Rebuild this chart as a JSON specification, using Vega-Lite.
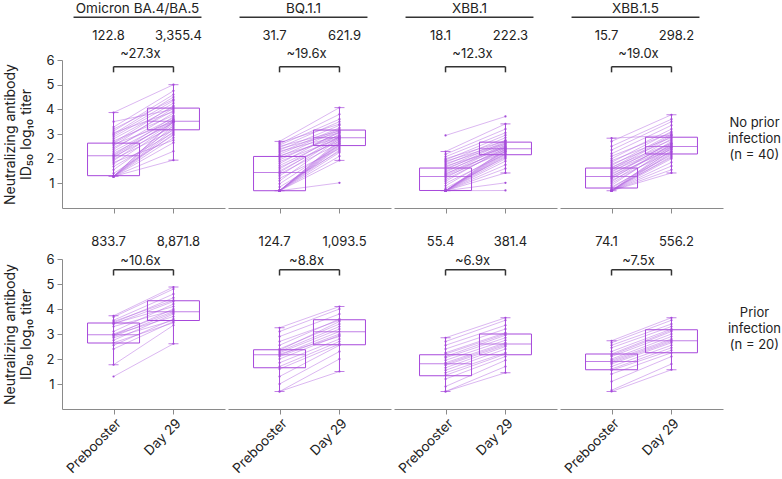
{
"$schema": "https://vega.github.io/schema/vega-lite/v6.json",
"padding": {"left": 3, "top": 1, "right": 0, "bottom": 0},
"spacing": 22,
"config": {"font": "Inter", "view": {"stroke": null}, "axis": {"grid": false, "domainColor": "#8a8a8a", "tickColor": "#8a8a8a", "labelColor": "#222", "labelFontSize": 13, "labelFont": "Inter", "titleFont": "Inter", "titleFontSize": 14, "titleFontWeight": "normal", "titleColor": "#222", "tickSize": 5, "labelOverlap": false}},
"datasets": {"d": [
{"k":"p","i":"n","v":"Omicron BA.4/BA.5","id":1,"Prebooster":1.28,"Day 29":1.94},
{"k":"p","i":"n","v":"Omicron BA.4/BA.5","id":2,"Prebooster":1.28,"Day 29":2.30},
{"k":"p","i":"n","v":"Omicron BA.4/BA.5","id":3,"Prebooster":1.28,"Day 29":2.65},
{"k":"p","i":"n","v":"Omicron BA.4/BA.5","id":4,"Prebooster":1.28,"Day 29":2.85},
{"k":"p","i":"n","v":"Omicron BA.4/BA.5","id":5,"Prebooster":1.28,"Day 29":3.00},
{"k":"p","i":"n","v":"Omicron BA.4/BA.5","id":6,"Prebooster":1.28,"Day 29":3.10},
{"k":"p","i":"n","v":"Omicron BA.4/BA.5","id":7,"Prebooster":1.28,"Day 29":3.20},
{"k":"p","i":"n","v":"Omicron BA.4/BA.5","id":8,"Prebooster":1.28,"Day 29":3.35},
{"k":"p","i":"n","v":"Omicron BA.4/BA.5","id":9,"Prebooster":1.28,"Day 29":3.50},
{"k":"p","i":"n","v":"Omicron BA.4/BA.5","id":10,"Prebooster":1.28,"Day 29":3.55},
{"k":"p","i":"n","v":"Omicron BA.4/BA.5","id":11,"Prebooster":1.40,"Day 29":2.95},
{"k":"p","i":"n","v":"Omicron BA.4/BA.5","id":12,"Prebooster":1.55,"Day 29":3.25},
{"k":"p","i":"n","v":"Omicron BA.4/BA.5","id":13,"Prebooster":1.68,"Day 29":3.05},
{"k":"p","i":"n","v":"Omicron BA.4/BA.5","id":14,"Prebooster":1.78,"Day 29":3.40},
{"k":"p","i":"n","v":"Omicron BA.4/BA.5","id":15,"Prebooster":1.85,"Day 29":2.75},
{"k":"p","i":"n","v":"Omicron BA.4/BA.5","id":16,"Prebooster":1.92,"Day 29":3.48},
{"k":"p","i":"n","v":"Omicron BA.4/BA.5","id":17,"Prebooster":1.98,"Day 29":3.15},
{"k":"p","i":"n","v":"Omicron BA.4/BA.5","id":18,"Prebooster":2.03,"Day 29":3.60},
{"k":"p","i":"n","v":"Omicron BA.4/BA.5","id":19,"Prebooster":2.08,"Day 29":3.30},
{"k":"p","i":"n","v":"Omicron BA.4/BA.5","id":20,"Prebooster":2.12,"Day 29":3.52},
{"k":"p","i":"n","v":"Omicron BA.4/BA.5","id":21,"Prebooster":2.15,"Day 29":3.70},
{"k":"p","i":"n","v":"Omicron BA.4/BA.5","id":22,"Prebooster":2.22,"Day 29":3.45},
{"k":"p","i":"n","v":"Omicron BA.4/BA.5","id":23,"Prebooster":2.30,"Day 29":3.58},
{"k":"p","i":"n","v":"Omicron BA.4/BA.5","id":24,"Prebooster":2.38,"Day 29":3.85},
{"k":"p","i":"n","v":"Omicron BA.4/BA.5","id":25,"Prebooster":2.45,"Day 29":3.65},
{"k":"p","i":"n","v":"Omicron BA.4/BA.5","id":26,"Prebooster":2.52,"Day 29":4.05},
{"k":"p","i":"n","v":"Omicron BA.4/BA.5","id":27,"Prebooster":2.58,"Day 29":3.50},
{"k":"p","i":"n","v":"Omicron BA.4/BA.5","id":28,"Prebooster":2.62,"Day 29":3.95},
{"k":"p","i":"n","v":"Omicron BA.4/BA.5","id":29,"Prebooster":2.65,"Day 29":4.15},
{"k":"p","i":"n","v":"Omicron BA.4/BA.5","id":30,"Prebooster":2.72,"Day 29":3.75},
{"k":"p","i":"n","v":"Omicron BA.4/BA.5","id":31,"Prebooster":2.80,"Day 29":4.10},
{"k":"p","i":"n","v":"Omicron BA.4/BA.5","id":32,"Prebooster":2.88,"Day 29":4.25},
{"k":"p","i":"n","v":"Omicron BA.4/BA.5","id":33,"Prebooster":2.95,"Day 29":4.35},
{"k":"p","i":"n","v":"Omicron BA.4/BA.5","id":34,"Prebooster":3.00,"Day 29":4.50},
{"k":"p","i":"n","v":"Omicron BA.4/BA.5","id":35,"Prebooster":3.05,"Day 29":3.90},
{"k":"p","i":"n","v":"Omicron BA.4/BA.5","id":36,"Prebooster":3.12,"Day 29":4.60},
{"k":"p","i":"n","v":"Omicron BA.4/BA.5","id":37,"Prebooster":3.20,"Day 29":4.40},
{"k":"p","i":"n","v":"Omicron BA.4/BA.5","id":38,"Prebooster":3.28,"Day 29":4.75},
{"k":"p","i":"n","v":"Omicron BA.4/BA.5","id":39,"Prebooster":3.50,"Day 29":4.00},
{"k":"p","i":"n","v":"Omicron BA.4/BA.5","id":40,"Prebooster":3.87,"Day 29":5.00},
{"k":"p","i":"n","v":"BQ.1.1","id":1,"Prebooster":0.70,"Day 29":1.02},
{"k":"p","i":"n","v":"BQ.1.1","id":2,"Prebooster":0.70,"Day 29":1.93},
{"k":"p","i":"n","v":"BQ.1.1","id":3,"Prebooster":0.70,"Day 29":2.10},
{"k":"p","i":"n","v":"BQ.1.1","id":4,"Prebooster":0.70,"Day 29":2.25},
{"k":"p","i":"n","v":"BQ.1.1","id":5,"Prebooster":0.70,"Day 29":2.35},
{"k":"p","i":"n","v":"BQ.1.1","id":6,"Prebooster":0.70,"Day 29":2.45},
{"k":"p","i":"n","v":"BQ.1.1","id":7,"Prebooster":0.70,"Day 29":2.50},
{"k":"p","i":"n","v":"BQ.1.1","id":8,"Prebooster":0.70,"Day 29":2.55},
{"k":"p","i":"n","v":"BQ.1.1","id":9,"Prebooster":0.70,"Day 29":2.60},
{"k":"p","i":"n","v":"BQ.1.1","id":10,"Prebooster":0.70,"Day 29":2.65},
{"k":"p","i":"n","v":"BQ.1.1","id":11,"Prebooster":0.70,"Day 29":2.70},
{"k":"p","i":"n","v":"BQ.1.1","id":12,"Prebooster":0.70,"Day 29":2.75},
{"k":"p","i":"n","v":"BQ.1.1","id":13,"Prebooster":0.85,"Day 29":2.30},
{"k":"p","i":"n","v":"BQ.1.1","id":14,"Prebooster":0.98,"Day 29":2.55},
{"k":"p","i":"n","v":"BQ.1.1","id":15,"Prebooster":1.10,"Day 29":2.80},
{"k":"p","i":"n","v":"BQ.1.1","id":16,"Prebooster":1.20,"Day 29":2.40},
{"k":"p","i":"n","v":"BQ.1.1","id":17,"Prebooster":1.30,"Day 29":2.85},
{"k":"p","i":"n","v":"BQ.1.1","id":18,"Prebooster":1.38,"Day 29":2.62},
{"k":"p","i":"n","v":"BQ.1.1","id":19,"Prebooster":1.44,"Day 29":2.90},
{"k":"p","i":"n","v":"BQ.1.1","id":20,"Prebooster":1.50,"Day 29":2.78},
{"k":"p","i":"n","v":"BQ.1.1","id":21,"Prebooster":1.58,"Day 29":3.00},
{"k":"p","i":"n","v":"BQ.1.1","id":22,"Prebooster":1.65,"Day 29":2.70},
{"k":"p","i":"n","v":"BQ.1.1","id":23,"Prebooster":1.72,"Day 29":2.88},
{"k":"p","i":"n","v":"BQ.1.1","id":24,"Prebooster":1.80,"Day 29":3.10},
{"k":"p","i":"n","v":"BQ.1.1","id":25,"Prebooster":1.88,"Day 29":2.82},
{"k":"p","i":"n","v":"BQ.1.1","id":26,"Prebooster":1.95,"Day 29":3.05},
{"k":"p","i":"n","v":"BQ.1.1","id":27,"Prebooster":2.02,"Day 29":2.95},
{"k":"p","i":"n","v":"BQ.1.1","id":28,"Prebooster":2.08,"Day 29":3.15},
{"k":"p","i":"n","v":"BQ.1.1","id":29,"Prebooster":2.12,"Day 29":2.86},
{"k":"p","i":"n","v":"BQ.1.1","id":30,"Prebooster":2.18,"Day 29":3.20},
{"k":"p","i":"n","v":"BQ.1.1","id":31,"Prebooster":2.25,"Day 29":3.25},
{"k":"p","i":"n","v":"BQ.1.1","id":32,"Prebooster":2.30,"Day 29":2.92},
{"k":"p","i":"n","v":"BQ.1.1","id":33,"Prebooster":2.35,"Day 29":3.35},
{"k":"p","i":"n","v":"BQ.1.1","id":34,"Prebooster":2.40,"Day 29":3.05},
{"k":"p","i":"n","v":"BQ.1.1","id":35,"Prebooster":2.45,"Day 29":3.50},
{"k":"p","i":"n","v":"BQ.1.1","id":36,"Prebooster":2.50,"Day 29":3.12},
{"k":"p","i":"n","v":"BQ.1.1","id":37,"Prebooster":2.55,"Day 29":3.60},
{"k":"p","i":"n","v":"BQ.1.1","id":38,"Prebooster":2.60,"Day 29":3.80},
{"k":"p","i":"n","v":"BQ.1.1","id":39,"Prebooster":2.65,"Day 29":3.40},
{"k":"p","i":"n","v":"BQ.1.1","id":40,"Prebooster":2.70,"Day 29":4.07},
{"k":"p","i":"n","v":"XBB.1","id":1,"Prebooster":0.70,"Day 29":0.71},
{"k":"p","i":"n","v":"XBB.1","id":2,"Prebooster":0.70,"Day 29":1.02},
{"k":"p","i":"n","v":"XBB.1","id":3,"Prebooster":0.70,"Day 29":1.42},
{"k":"p","i":"n","v":"XBB.1","id":4,"Prebooster":0.70,"Day 29":1.60},
{"k":"p","i":"n","v":"XBB.1","id":5,"Prebooster":0.70,"Day 29":1.75},
{"k":"p","i":"n","v":"XBB.1","id":6,"Prebooster":0.70,"Day 29":1.90},
{"k":"p","i":"n","v":"XBB.1","id":7,"Prebooster":0.70,"Day 29":2.00},
{"k":"p","i":"n","v":"XBB.1","id":8,"Prebooster":0.70,"Day 29":2.10},
{"k":"p","i":"n","v":"XBB.1","id":9,"Prebooster":0.70,"Day 29":2.15},
{"k":"p","i":"n","v":"XBB.1","id":10,"Prebooster":0.70,"Day 29":2.20},
{"k":"p","i":"n","v":"XBB.1","id":11,"Prebooster":0.70,"Day 29":2.25},
{"k":"p","i":"n","v":"XBB.1","id":12,"Prebooster":0.70,"Day 29":2.30},
{"k":"p","i":"n","v":"XBB.1","id":13,"Prebooster":0.70,"Day 29":2.35},
{"k":"p","i":"n","v":"XBB.1","id":14,"Prebooster":0.70,"Day 29":2.40},
{"k":"p","i":"n","v":"XBB.1","id":15,"Prebooster":0.80,"Day 29":2.05},
{"k":"p","i":"n","v":"XBB.1","id":16,"Prebooster":0.90,"Day 29":2.30},
{"k":"p","i":"n","v":"XBB.1","id":17,"Prebooster":1.00,"Day 29":2.18},
{"k":"p","i":"n","v":"XBB.1","id":18,"Prebooster":1.08,"Day 29":2.45},
{"k":"p","i":"n","v":"XBB.1","id":19,"Prebooster":1.15,"Day 29":2.38},
{"k":"p","i":"n","v":"XBB.1","id":20,"Prebooster":1.22,"Day 29":2.50},
{"k":"p","i":"n","v":"XBB.1","id":21,"Prebooster":1.28,"Day 29":2.28},
{"k":"p","i":"n","v":"XBB.1","id":22,"Prebooster":1.32,"Day 29":2.42},
{"k":"p","i":"n","v":"XBB.1","id":23,"Prebooster":1.36,"Day 29":2.55},
{"k":"p","i":"n","v":"XBB.1","id":24,"Prebooster":1.40,"Day 29":2.35},
{"k":"p","i":"n","v":"XBB.1","id":25,"Prebooster":1.45,"Day 29":2.60},
{"k":"p","i":"n","v":"XBB.1","id":26,"Prebooster":1.50,"Day 29":2.48},
{"k":"p","i":"n","v":"XBB.1","id":27,"Prebooster":1.55,"Day 29":2.66},
{"k":"p","i":"n","v":"XBB.1","id":28,"Prebooster":1.60,"Day 29":2.52},
{"k":"p","i":"n","v":"XBB.1","id":29,"Prebooster":1.65,"Day 29":2.70},
{"k":"p","i":"n","v":"XBB.1","id":30,"Prebooster":1.70,"Day 29":2.44},
{"k":"p","i":"n","v":"XBB.1","id":31,"Prebooster":1.75,"Day 29":2.75},
{"k":"p","i":"n","v":"XBB.1","id":32,"Prebooster":1.80,"Day 29":2.58},
{"k":"p","i":"n","v":"XBB.1","id":33,"Prebooster":1.85,"Day 29":2.85},
{"k":"p","i":"n","v":"XBB.1","id":34,"Prebooster":1.90,"Day 29":2.62},
{"k":"p","i":"n","v":"XBB.1","id":35,"Prebooster":1.95,"Day 29":2.95},
{"k":"p","i":"n","v":"XBB.1","id":36,"Prebooster":2.00,"Day 29":2.72},
{"k":"p","i":"n","v":"XBB.1","id":37,"Prebooster":2.08,"Day 29":3.05},
{"k":"p","i":"n","v":"XBB.1","id":38,"Prebooster":2.18,"Day 29":3.20},
{"k":"p","i":"n","v":"XBB.1","id":39,"Prebooster":2.29,"Day 29":3.41},
{"k":"p","i":"n","v":"XBB.1","id":40,"Prebooster":2.94,"Day 29":3.71},
{"k":"p","i":"n","v":"XBB.1.5","id":1,"Prebooster":0.70,"Day 29":1.42},
{"k":"p","i":"n","v":"XBB.1.5","id":2,"Prebooster":0.70,"Day 29":1.55},
{"k":"p","i":"n","v":"XBB.1.5","id":3,"Prebooster":0.70,"Day 29":1.70},
{"k":"p","i":"n","v":"XBB.1.5","id":4,"Prebooster":0.70,"Day 29":1.85},
{"k":"p","i":"n","v":"XBB.1.5","id":5,"Prebooster":0.70,"Day 29":2.00},
{"k":"p","i":"n","v":"XBB.1.5","id":6,"Prebooster":0.70,"Day 29":2.10},
{"k":"p","i":"n","v":"XBB.1.5","id":7,"Prebooster":0.70,"Day 29":2.20},
{"k":"p","i":"n","v":"XBB.1.5","id":8,"Prebooster":0.70,"Day 29":2.25},
{"k":"p","i":"n","v":"XBB.1.5","id":9,"Prebooster":0.70,"Day 29":2.35},
{"k":"p","i":"n","v":"XBB.1.5","id":10,"Prebooster":0.70,"Day 29":2.45},
{"k":"p","i":"n","v":"XBB.1.5","id":11,"Prebooster":0.75,"Day 29":2.05},
{"k":"p","i":"n","v":"XBB.1.5","id":12,"Prebooster":0.80,"Day 29":2.30},
{"k":"p","i":"n","v":"XBB.1.5","id":13,"Prebooster":0.85,"Day 29":2.15},
{"k":"p","i":"n","v":"XBB.1.5","id":14,"Prebooster":0.92,"Day 29":2.50},
{"k":"p","i":"n","v":"XBB.1.5","id":15,"Prebooster":1.00,"Day 29":2.40},
{"k":"p","i":"n","v":"XBB.1.5","id":16,"Prebooster":1.06,"Day 29":2.60},
{"k":"p","i":"n","v":"XBB.1.5","id":17,"Prebooster":1.12,"Day 29":2.28},
{"k":"p","i":"n","v":"XBB.1.5","id":18,"Prebooster":1.18,"Day 29":2.55},
{"k":"p","i":"n","v":"XBB.1.5","id":19,"Prebooster":1.22,"Day 29":2.45},
{"k":"p","i":"n","v":"XBB.1.5","id":20,"Prebooster":1.26,"Day 29":2.70},
{"k":"p","i":"n","v":"XBB.1.5","id":21,"Prebooster":1.30,"Day 29":2.38},
{"k":"p","i":"n","v":"XBB.1.5","id":22,"Prebooster":1.35,"Day 29":2.65},
{"k":"p","i":"n","v":"XBB.1.5","id":23,"Prebooster":1.40,"Day 29":2.48},
{"k":"p","i":"n","v":"XBB.1.5","id":24,"Prebooster":1.45,"Day 29":2.80},
{"k":"p","i":"n","v":"XBB.1.5","id":25,"Prebooster":1.50,"Day 29":2.52},
{"k":"p","i":"n","v":"XBB.1.5","id":26,"Prebooster":1.55,"Day 29":2.90},
{"k":"p","i":"n","v":"XBB.1.5","id":27,"Prebooster":1.58,"Day 29":2.58},
{"k":"p","i":"n","v":"XBB.1.5","id":28,"Prebooster":1.62,"Day 29":2.95},
{"k":"p","i":"n","v":"XBB.1.5","id":29,"Prebooster":1.66,"Day 29":2.62},
{"k":"p","i":"n","v":"XBB.1.5","id":30,"Prebooster":1.72,"Day 29":3.00},
{"k":"p","i":"n","v":"XBB.1.5","id":31,"Prebooster":1.78,"Day 29":2.75},
{"k":"p","i":"n","v":"XBB.1.5","id":32,"Prebooster":1.85,"Day 29":3.10},
{"k":"p","i":"n","v":"XBB.1.5","id":33,"Prebooster":1.92,"Day 29":2.85},
{"k":"p","i":"n","v":"XBB.1.5","id":34,"Prebooster":2.00,"Day 29":3.20},
{"k":"p","i":"n","v":"XBB.1.5","id":35,"Prebooster":2.10,"Day 29":3.05},
{"k":"p","i":"n","v":"XBB.1.5","id":36,"Prebooster":2.20,"Day 29":3.35},
{"k":"p","i":"n","v":"XBB.1.5","id":37,"Prebooster":2.35,"Day 29":3.50},
{"k":"p","i":"n","v":"XBB.1.5","id":38,"Prebooster":2.50,"Day 29":3.60},
{"k":"p","i":"n","v":"XBB.1.5","id":39,"Prebooster":2.70,"Day 29":3.78},
{"k":"p","i":"n","v":"XBB.1.5","id":40,"Prebooster":2.83,"Day 29":2.95},
{"k":"p","i":"p","v":"Omicron BA.4/BA.5","id":1,"Prebooster":1.30,"Day 29":2.61},
{"k":"p","i":"p","v":"Omicron BA.4/BA.5","id":2,"Prebooster":1.77,"Day 29":3.35},
{"k":"p","i":"p","v":"Omicron BA.4/BA.5","id":3,"Prebooster":2.40,"Day 29":3.50},
{"k":"p","i":"p","v":"Omicron BA.4/BA.5","id":4,"Prebooster":2.55,"Day 29":3.60},
{"k":"p","i":"p","v":"Omicron BA.4/BA.5","id":5,"Prebooster":2.65,"Day 29":3.45},
{"k":"p","i":"p","v":"Omicron BA.4/BA.5","id":6,"Prebooster":2.75,"Day 29":3.80},
{"k":"p","i":"p","v":"Omicron BA.4/BA.5","id":7,"Prebooster":2.85,"Day 29":3.55},
{"k":"p","i":"p","v":"Omicron BA.4/BA.5","id":8,"Prebooster":2.90,"Day 29":3.85},
{"k":"p","i":"p","v":"Omicron BA.4/BA.5","id":9,"Prebooster":2.95,"Day 29":4.00},
{"k":"p","i":"p","v":"Omicron BA.4/BA.5","id":10,"Prebooster":2.97,"Day 29":3.70},
{"k":"p","i":"p","v":"Omicron BA.4/BA.5","id":11,"Prebooster":3.00,"Day 29":3.90},
{"k":"p","i":"p","v":"Omicron BA.4/BA.5","id":12,"Prebooster":3.10,"Day 29":4.20},
{"k":"p","i":"p","v":"Omicron BA.4/BA.5","id":13,"Prebooster":3.30,"Day 29":3.95},
{"k":"p","i":"p","v":"Omicron BA.4/BA.5","id":14,"Prebooster":3.40,"Day 29":4.30},
{"k":"p","i":"p","v":"Omicron BA.4/BA.5","id":15,"Prebooster":3.42,"Day 29":4.10},
{"k":"p","i":"p","v":"Omicron BA.4/BA.5","id":16,"Prebooster":3.45,"Day 29":4.45},
{"k":"p","i":"p","v":"Omicron BA.4/BA.5","id":17,"Prebooster":3.50,"Day 29":4.35},
{"k":"p","i":"p","v":"Omicron BA.4/BA.5","id":18,"Prebooster":3.55,"Day 29":4.60},
{"k":"p","i":"p","v":"Omicron BA.4/BA.5","id":19,"Prebooster":3.68,"Day 29":4.80},
{"k":"p","i":"p","v":"Omicron BA.4/BA.5","id":20,"Prebooster":3.73,"Day 29":4.88},
{"k":"p","i":"p","v":"BQ.1.1","id":1,"Prebooster":0.70,"Day 29":1.50},
{"k":"p","i":"p","v":"BQ.1.1","id":2,"Prebooster":0.70,"Day 29":2.00},
{"k":"p","i":"p","v":"BQ.1.1","id":3,"Prebooster":1.00,"Day 29":2.30},
{"k":"p","i":"p","v":"BQ.1.1","id":4,"Prebooster":1.30,"Day 29":2.55},
{"k":"p","i":"p","v":"BQ.1.1","id":5,"Prebooster":1.60,"Day 29":2.60},
{"k":"p","i":"p","v":"BQ.1.1","id":6,"Prebooster":1.70,"Day 29":2.70},
{"k":"p","i":"p","v":"BQ.1.1","id":7,"Prebooster":1.85,"Day 29":2.80},
{"k":"p","i":"p","v":"BQ.1.1","id":8,"Prebooster":2.00,"Day 29":2.95},
{"k":"p","i":"p","v":"BQ.1.1","id":9,"Prebooster":2.10,"Day 29":3.00},
{"k":"p","i":"p","v":"BQ.1.1","id":10,"Prebooster":2.15,"Day 29":3.10},
{"k":"p","i":"p","v":"BQ.1.1","id":11,"Prebooster":2.20,"Day 29":2.90},
{"k":"p","i":"p","v":"BQ.1.1","id":12,"Prebooster":2.25,"Day 29":3.20},
{"k":"p","i":"p","v":"BQ.1.1","id":13,"Prebooster":2.30,"Day 29":3.30},
{"k":"p","i":"p","v":"BQ.1.1","id":14,"Prebooster":2.35,"Day 29":3.50},
{"k":"p","i":"p","v":"BQ.1.1","id":15,"Prebooster":2.40,"Day 29":3.40},
{"k":"p","i":"p","v":"BQ.1.1","id":16,"Prebooster":2.55,"Day 29":3.60},
{"k":"p","i":"p","v":"BQ.1.1","id":17,"Prebooster":2.70,"Day 29":3.55},
{"k":"p","i":"p","v":"BQ.1.1","id":18,"Prebooster":2.90,"Day 29":3.80},
{"k":"p","i":"p","v":"BQ.1.1","id":19,"Prebooster":3.10,"Day 29":4.00},
{"k":"p","i":"p","v":"BQ.1.1","id":20,"Prebooster":3.25,"Day 29":4.10},
{"k":"p","i":"p","v":"XBB.1","id":1,"Prebooster":0.70,"Day 29":1.45},
{"k":"p","i":"p","v":"XBB.1","id":2,"Prebooster":0.70,"Day 29":1.70},
{"k":"p","i":"p","v":"XBB.1","id":3,"Prebooster":0.90,"Day 29":1.95},
{"k":"p","i":"p","v":"XBB.1","id":4,"Prebooster":1.20,"Day 29":2.10},
{"k":"p","i":"p","v":"XBB.1","id":5,"Prebooster":1.35,"Day 29":2.20},
{"k":"p","i":"p","v":"XBB.1","id":6,"Prebooster":1.45,"Day 29":2.25},
{"k":"p","i":"p","v":"XBB.1","id":7,"Prebooster":1.55,"Day 29":2.40},
{"k":"p","i":"p","v":"XBB.1","id":8,"Prebooster":1.65,"Day 29":2.50},
{"k":"p","i":"p","v":"XBB.1","id":9,"Prebooster":1.75,"Day 29":2.55},
{"k":"p","i":"p","v":"XBB.1","id":10,"Prebooster":1.80,"Day 29":2.60},
{"k":"p","i":"p","v":"XBB.1","id":11,"Prebooster":1.85,"Day 29":2.65},
{"k":"p","i":"p","v":"XBB.1","id":12,"Prebooster":1.95,"Day 29":2.75},
{"k":"p","i":"p","v":"XBB.1","id":13,"Prebooster":2.05,"Day 29":2.85},
{"k":"p","i":"p","v":"XBB.1","id":14,"Prebooster":2.10,"Day 29":2.95},
{"k":"p","i":"p","v":"XBB.1","id":15,"Prebooster":2.20,"Day 29":3.00},
{"k":"p","i":"p","v":"XBB.1","id":16,"Prebooster":2.25,"Day 29":3.05},
{"k":"p","i":"p","v":"XBB.1","id":17,"Prebooster":2.40,"Day 29":3.20},
{"k":"p","i":"p","v":"XBB.1","id":18,"Prebooster":2.55,"Day 29":3.35},
{"k":"p","i":"p","v":"XBB.1","id":19,"Prebooster":2.70,"Day 29":3.55},
{"k":"p","i":"p","v":"XBB.1","id":20,"Prebooster":2.85,"Day 29":3.65},
{"k":"p","i":"p","v":"XBB.1.5","id":1,"Prebooster":0.70,"Day 29":1.57},
{"k":"p","i":"p","v":"XBB.1.5","id":2,"Prebooster":0.75,"Day 29":1.80},
{"k":"p","i":"p","v":"XBB.1.5","id":3,"Prebooster":1.10,"Day 29":2.10},
{"k":"p","i":"p","v":"XBB.1.5","id":4,"Prebooster":1.40,"Day 29":2.25},
{"k":"p","i":"p","v":"XBB.1.5","id":5,"Prebooster":1.55,"Day 29":2.35},
{"k":"p","i":"p","v":"XBB.1.5","id":6,"Prebooster":1.60,"Day 29":2.45},
{"k":"p","i":"p","v":"XBB.1.5","id":7,"Prebooster":1.70,"Day 29":2.55},
{"k":"p","i":"p","v":"XBB.1.5","id":8,"Prebooster":1.80,"Day 29":2.65},
{"k":"p","i":"p","v":"XBB.1.5","id":9,"Prebooster":1.85,"Day 29":2.70},
{"k":"p","i":"p","v":"XBB.1.5","id":10,"Prebooster":1.90,"Day 29":2.75},
{"k":"p","i":"p","v":"XBB.1.5","id":11,"Prebooster":1.95,"Day 29":2.80},
{"k":"p","i":"p","v":"XBB.1.5","id":12,"Prebooster":2.00,"Day 29":2.90},
{"k":"p","i":"p","v":"XBB.1.5","id":13,"Prebooster":2.10,"Day 29":3.00},
{"k":"p","i":"p","v":"XBB.1.5","id":14,"Prebooster":2.15,"Day 29":3.10},
{"k":"p","i":"p","v":"XBB.1.5","id":15,"Prebooster":2.20,"Day 29":3.15},
{"k":"p","i":"p","v":"XBB.1.5","id":16,"Prebooster":2.30,"Day 29":3.20},
{"k":"p","i":"p","v":"XBB.1.5","id":17,"Prebooster":2.45,"Day 29":3.30},
{"k":"p","i":"p","v":"XBB.1.5","id":18,"Prebooster":2.55,"Day 29":3.40},
{"k":"p","i":"p","v":"XBB.1.5","id":19,"Prebooster":2.65,"Day 29":3.55},
{"k":"p","i":"p","v":"XBB.1.5","id":20,"Prebooster":2.73,"Day 29":3.65},
{"k":"b","i":"n","v":"Omicron BA.4/BA.5","time":"Prebooster","lo":1.28,"q1":1.31,"med":2.12,"q3":2.63,"hi":3.87},
{"k":"b","i":"n","v":"Omicron BA.4/BA.5","time":"Day 29","lo":1.94,"q1":3.17,"med":3.52,"q3":4.05,"hi":5.0},
{"k":"b","i":"n","v":"BQ.1.1","time":"Prebooster","lo":0.70,"q1":0.70,"med":1.44,"q3":2.09,"hi":2.70},
{"k":"b","i":"n","v":"BQ.1.1","time":"Day 29","lo":1.93,"q1":2.53,"med":2.85,"q3":3.16,"hi":4.07},
{"k":"b","i":"n","v":"XBB.1","time":"Prebooster","lo":0.70,"q1":0.71,"med":1.28,"q3":1.62,"hi":2.29},
{"k":"b","i":"n","v":"XBB.1","time":"Day 29","lo":1.42,"q1":2.16,"med":2.40,"q3":2.67,"hi":3.41},
{"k":"b","i":"n","v":"XBB.1.5","time":"Prebooster","lo":0.70,"q1":0.81,"med":1.28,"q3":1.62,"hi":2.83},
{"k":"b","i":"n","v":"XBB.1.5","time":"Day 29","lo":1.42,"q1":2.19,"med":2.49,"q3":2.87,"hi":3.78},
{"k":"b","i":"p","v":"Omicron BA.4/BA.5","time":"Prebooster","lo":1.77,"q1":2.64,"med":2.97,"q3":3.44,"hi":3.73},
{"k":"b","i":"p","v":"Omicron BA.4/BA.5","time":"Day 29","lo":2.61,"q1":3.54,"med":3.89,"q3":4.33,"hi":4.88},
{"k":"b","i":"p","v":"BQ.1.1","time":"Prebooster","lo":0.70,"q1":1.65,"med":2.17,"q3":2.37,"hi":3.25},
{"k":"b","i":"p","v":"BQ.1.1","time":"Day 29","lo":1.50,"q1":2.57,"med":3.09,"q3":3.57,"hi":4.10},
{"k":"b","i":"p","v":"XBB.1","time":"Prebooster","lo":0.70,"q1":1.33,"med":1.81,"q3":2.17,"hi":2.85},
{"k":"b","i":"p","v":"XBB.1","time":"Day 29","lo":1.45,"q1":2.17,"med":2.60,"q3":3.00,"hi":3.65},
{"k":"b","i":"p","v":"XBB.1.5","time":"Prebooster","lo":0.70,"q1":1.57,"med":1.90,"q3":2.20,"hi":2.73},
{"k":"b","i":"p","v":"XBB.1.5","time":"Day 29","lo":1.57,"q1":2.25,"med":2.73,"q3":3.17,"hi":3.65},
{"k":"g","i":"n","v":"Omicron BA.4/BA.5","time":"Prebooster","t":"122.8"},
{"k":"g","i":"n","v":"Omicron BA.4/BA.5","time":"Day 29","t":"3,355.4"},
{"k":"g","i":"n","v":"BQ.1.1","time":"Prebooster","t":"31.7"},
{"k":"g","i":"n","v":"BQ.1.1","time":"Day 29","t":"621.9"},
{"k":"g","i":"n","v":"XBB.1","time":"Prebooster","t":"18.1"},
{"k":"g","i":"n","v":"XBB.1","time":"Day 29","t":"222.3"},
{"k":"g","i":"n","v":"XBB.1.5","time":"Prebooster","t":"15.7"},
{"k":"g","i":"n","v":"XBB.1.5","time":"Day 29","t":"298.2"},
{"k":"g","i":"p","v":"Omicron BA.4/BA.5","time":"Prebooster","t":"833.7"},
{"k":"g","i":"p","v":"Omicron BA.4/BA.5","time":"Day 29","t":"8,871.8"},
{"k":"g","i":"p","v":"BQ.1.1","time":"Prebooster","t":"124.7"},
{"k":"g","i":"p","v":"BQ.1.1","time":"Day 29","t":"1,093.5"},
{"k":"g","i":"p","v":"XBB.1","time":"Prebooster","t":"55.4"},
{"k":"g","i":"p","v":"XBB.1","time":"Day 29","t":"381.4"},
{"k":"g","i":"p","v":"XBB.1.5","time":"Prebooster","t":"74.1"},
{"k":"g","i":"p","v":"XBB.1.5","time":"Day 29","t":"556.2"},
{"k":"f","i":"n","v":"Omicron BA.4/BA.5","t":"~27.3x"},
{"k":"f","i":"n","v":"BQ.1.1","t":"~19.6x"},
{"k":"f","i":"n","v":"XBB.1","t":"~12.3x"},
{"k":"f","i":"n","v":"XBB.1.5","t":"~19.0x"},
{"k":"f","i":"p","v":"Omicron BA.4/BA.5","t":"~10.6x"},
{"k":"f","i":"p","v":"BQ.1.1","t":"~8.8x"},
{"k":"f","i":"p","v":"XBB.1","t":"~6.9x"},
{"k":"f","i":"p","v":"XBB.1.5","t":"~7.5x"},
{"k":"r","i":"n","v":"XBB.1.5","t":["No prior","infection","(n = 40)"]},
{"k":"r","i":"p","v":"XBB.1.5","t":["Prior","infection","(n = 20)"]}
]},
"vconcat": [
{
"data": {"name": "d"},
"transform": [{"filter": "datum.i == 'n'"}],
"facet": {
 "column": {"field": "v", "type": "nominal", "sort": ["Omicron BA.4/BA.5", "BQ.1.1", "XBB.1", "XBB.1.5"], "header": {"title": null, "labels": false}}
},
"spacing": {"column": 3},
"bounds": "flush",
"spec": {
 "width": 163, "height": 148,
 "layer": [
  {"transform": [{"filter": "datum.k == 'p'"}, {"fold": ["Prebooster", "Day 29"], "as": ["time", "titer"]}],
   "mark": {"type": "line", "color": "#b46ae2", "strokeWidth": 0.65, "opacity": 0.75},
   "encoding": {
    "x": {"field": "time", "type": "nominal", "scale": {"type": "point", "domain": ["Prebooster", "Day 29"], "padding": 0.86}, "axis": {"labels": false, "title": null}},
    "y": {"field": "titer", "type": "quantitative", "scale": {"domain": [0, 6], "nice": false, "zero": false}, "axis": {"values": [1, 2, 3, 4, 5, 6], "tickCount": 12, "format": "d", "labelOverlap": false, "labelFlush": false, "title": ["Neutralizing antibody", "ID₅₀ log₁₀ titer"], "titlePadding": 12, "titleLineHeight": 16, "labelPadding": 3}},
    "detail": {"field": "id"}}},
  {"transform": [{"filter": "datum.k == 'p'"}, {"fold": ["Prebooster", "Day 29"], "as": ["time", "titer"]}],
   "mark": {"type": "circle", "color": "#a34cd8", "size": 5, "opacity": 1},
   "encoding": {"x": {"field": "time", "type": "nominal"}, "y": {"field": "titer", "type": "quantitative"}}},
  {"transform": [{"filter": "datum.k == 'b'"}],
   "mark": {"type": "bar", "width": 52, "fillOpacity": 0, "stroke": "#a748db", "strokeWidth": 1},
   "encoding": {"x": {"field": "time", "type": "nominal"}, "y": {"field": "q1", "type": "quantitative"}, "y2": {"field": "q3"}}},
  {"transform": [{"filter": "datum.k == 'b'"}],
   "mark": {"type": "tick", "color": "#a748db", "thickness": 1},
   "encoding": {"x": {"field": "time", "type": "nominal"}, "y": {"field": "med", "type": "quantitative"}, "size": {"value": 52}}},
  {"transform": [{"filter": "datum.k == 'b'"}],
   "mark": {"type": "rule", "color": "#a748db", "strokeWidth": 1},
   "encoding": {"x": {"field": "time", "type": "nominal"}, "y": {"field": "lo", "type": "quantitative"}, "y2": {"field": "hi"}}},
  {"transform": [{"filter": "datum.k == 'b'"}, {"fold": ["lo", "hi"], "as": ["w", "wv"]}],
   "mark": {"type": "tick", "color": "#a748db", "thickness": 1},
   "encoding": {"x": {"field": "time", "type": "nominal"}, "y": {"field": "wv", "type": "quantitative"}, "size": {"value": 10}}},
  {"transform": [{"filter": "datum.k == 'g' && datum.time == 'Prebooster'"}],
   "mark": {"type": "text", "fontSize": 13, "color": "#222", "dx": -5, "baseline": "middle"},
   "encoding": {"x": {"field": "time", "type": "nominal"}, "y": {"datum": 6.98}, "text": {"field": "t"}}},
  {"transform": [{"filter": "datum.k == 'g' && datum.time == 'Day 29'"}],
   "mark": {"type": "text", "fontSize": 13, "color": "#222", "dx": 5, "baseline": "middle"},
   "encoding": {"x": {"field": "time", "type": "nominal"}, "y": {"datum": 6.98}, "text": {"field": "t"}}},
  {"transform": [{"filter": "datum.k == 'f'"}],
   "mark": {"type": "text", "fontSize": 13, "color": "#222", "dx": 27, "baseline": "middle"},
   "encoding": {"x": {"datum": "Prebooster", "type": "nominal"}, "y": {"datum": 6.24}, "text": {"field": "t"}}},
  {"transform": [{"filter": "datum.k == 'f'"}],
   "mark": {"type": "rule", "color": "#333", "strokeWidth": 1.5},
   "encoding": {"x": {"datum": "Prebooster", "type": "nominal"}, "x2": {"datum": "Day 29"}, "y": {"datum": 5.73}}},
  {"transform": [{"filter": "datum.k == 'g'"}],
   "mark": {"type": "rule", "color": "#333", "strokeWidth": 1.5},
   "encoding": {"x": {"field": "time", "type": "nominal"}, "y": {"datum": 5.73}, "y2": {"datum": 5.5}}},
  {"transform": [{"filter": "datum.k == 'f'"}],
   "mark": {"type": "text", "fontSize": 13.5, "color": "#222", "dx": 24, "baseline": "middle"},
   "encoding": {"x": {"datum": "Prebooster", "type": "nominal"}, "y": {"datum": 8.07}, "text": {"field": "v"}}},
  {"transform": [{"filter": "datum.k == 'f'"}],
   "mark": {"type": "rule", "color": "#333", "strokeWidth": 1.5, "xOffset": -40, "x2Offset": 28},
   "encoding": {"x": {"datum": "Prebooster", "type": "nominal"}, "x2": {"datum": "Day 29"}, "y": {"datum": 7.73}}},
  {"transform": [{"filter": "datum.k == 'r'"}],
   "mark": {"type": "text", "fontSize": 13, "color": "#222", "dx": 83, "baseline": "middle", "align": "center", "lineHeight": 16},
   "encoding": {"x": {"datum": "Day 29", "type": "nominal"}, "y": {"datum": 3.45}, "text": {"field": "t"}}}
 ]
}
},
{
"data": {"name": "d"},
"transform": [{"filter": "datum.i == 'p'"}],
"facet": {
 "column": {"field": "v", "type": "nominal", "sort": ["Omicron BA.4/BA.5", "BQ.1.1", "XBB.1", "XBB.1.5"], "header": {"title": null, "labels": false}}
},
"spacing": {"column": 3},
"bounds": "flush",
"spec": {
 "width": 163, "height": 150,
 "layer": [
  {"transform": [{"filter": "datum.k == 'p'"}, {"fold": ["Prebooster", "Day 29"], "as": ["time", "titer"]}],
   "mark": {"type": "line", "color": "#b46ae2", "strokeWidth": 0.65, "opacity": 0.75},
   "encoding": {
    "x": {"field": "time", "type": "nominal", "scale": {"type": "point", "domain": ["Prebooster", "Day 29"], "padding": 0.86}, "axis": {"title": null, "labelAngle": -45, "labelFontSize": 13.5}},
    "y": {"field": "titer", "type": "quantitative", "scale": {"domain": [0, 6], "nice": false, "zero": false}, "axis": {"values": [1, 2, 3, 4, 5, 6], "tickCount": 12, "format": "d", "labelOverlap": false, "labelFlush": false, "title": ["Neutralizing antibody", "ID₅₀ log₁₀ titer"], "titlePadding": 12, "titleLineHeight": 16, "labelPadding": 3}},
    "detail": {"field": "id"}}},
  {"transform": [{"filter": "datum.k == 'p'"}, {"fold": ["Prebooster", "Day 29"], "as": ["time", "titer"]}],
   "mark": {"type": "circle", "color": "#a34cd8", "size": 5, "opacity": 1},
   "encoding": {"x": {"field": "time", "type": "nominal"}, "y": {"field": "titer", "type": "quantitative"}}},
  {"transform": [{"filter": "datum.k == 'b'"}],
   "mark": {"type": "bar", "width": 52, "fillOpacity": 0, "stroke": "#a748db", "strokeWidth": 1},
   "encoding": {"x": {"field": "time", "type": "nominal"}, "y": {"field": "q1", "type": "quantitative"}, "y2": {"field": "q3"}}},
  {"transform": [{"filter": "datum.k == 'b'"}],
   "mark": {"type": "tick", "color": "#a748db", "thickness": 1},
   "encoding": {"x": {"field": "time", "type": "nominal"}, "y": {"field": "med", "type": "quantitative"}, "size": {"value": 52}}},
  {"transform": [{"filter": "datum.k == 'b'"}],
   "mark": {"type": "rule", "color": "#a748db", "strokeWidth": 1},
   "encoding": {"x": {"field": "time", "type": "nominal"}, "y": {"field": "lo", "type": "quantitative"}, "y2": {"field": "hi"}}},
  {"transform": [{"filter": "datum.k == 'b'"}, {"fold": ["lo", "hi"], "as": ["w", "wv"]}],
   "mark": {"type": "tick", "color": "#a748db", "thickness": 1},
   "encoding": {"x": {"field": "time", "type": "nominal"}, "y": {"field": "wv", "type": "quantitative"}, "size": {"value": 10}}},
  {"transform": [{"filter": "datum.k == 'g' && datum.time == 'Prebooster'"}],
   "mark": {"type": "text", "fontSize": 13, "color": "#222", "dx": -5, "baseline": "middle"},
   "encoding": {"x": {"field": "time", "type": "nominal"}, "y": {"datum": 6.68}, "text": {"field": "t"}}},
  {"transform": [{"filter": "datum.k == 'g' && datum.time == 'Day 29'"}],
   "mark": {"type": "text", "fontSize": 13, "color": "#222", "dx": 5, "baseline": "middle"},
   "encoding": {"x": {"field": "time", "type": "nominal"}, "y": {"datum": 6.68}, "text": {"field": "t"}}},
  {"transform": [{"filter": "datum.k == 'f'"}],
   "mark": {"type": "text", "fontSize": 13, "color": "#222", "dx": 27, "baseline": "middle"},
   "encoding": {"x": {"datum": "Prebooster", "type": "nominal"}, "y": {"datum": 5.93}, "text": {"field": "t"}}},
  {"transform": [{"filter": "datum.k == 'f'"}],
   "mark": {"type": "rule", "color": "#333", "strokeWidth": 1.5},
   "encoding": {"x": {"datum": "Prebooster", "type": "nominal"}, "x2": {"datum": "Day 29"}, "y": {"datum": 5.57}}},
  {"transform": [{"filter": "datum.k == 'g'"}],
   "mark": {"type": "rule", "color": "#333", "strokeWidth": 1.5},
   "encoding": {"x": {"field": "time", "type": "nominal"}, "y": {"datum": 5.57}, "y2": {"datum": 5.34}}},
  {"transform": [{"filter": "datum.k == 'r'"}],
   "mark": {"type": "text", "fontSize": 13, "color": "#222", "dx": 83, "baseline": "middle", "align": "center", "lineHeight": 16},
   "encoding": {"x": {"datum": "Day 29", "type": "nominal"}, "y": {"datum": 3.85}, "text": {"field": "t"}}}
 ]
}
}
]
}
